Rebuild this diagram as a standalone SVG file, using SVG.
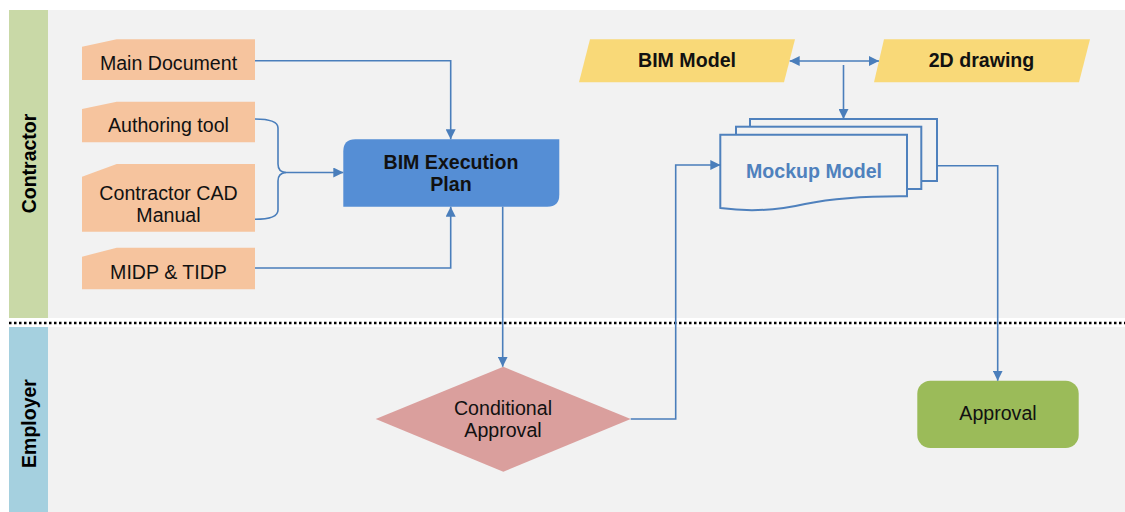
<svg xmlns="http://www.w3.org/2000/svg" width="1125" height="512" viewBox="0 0 1125 512">
  <defs>
    <marker id="arrow" viewBox="0 0 10 10" refX="10" refY="5" markerWidth="10" markerHeight="10" markerUnits="userSpaceOnUse" orient="auto-start-reverse">
      <path d="M0,0 L10,5 L0,10 Z" fill="#4A7EBB"/>
    </marker>
    <style>
      .lane-bg { fill: #F2F2F2; }
      .lane-label { font-family: "Liberation Sans", Arial, sans-serif; font-size: 19.5px; font-weight: bold; fill: #000; text-anchor: middle; }
      .txt { font-family: "Liberation Sans", Arial, sans-serif; font-size: 19.6px; fill: #111; text-anchor: middle; }
      .bold { font-weight: bold; }
      .input { fill: #F6C49E; }
      .data { fill: #F9D978; }
      .conn { fill: none; stroke: #4A7EBB; stroke-width: 1.6; }
      .page { fill: #F2F2F2; stroke: #4F81BD; stroke-width: 2; }
    </style>
  </defs>

  <rect width="1125" height="512" fill="#FFFFFF"/>

  <!-- Swimlanes -->
  <g id="lane-contractor">
    <rect class="lane-bg" x="48" y="10" width="1077" height="308"/>
    <rect x="9" y="10" width="39" height="308" fill="#C9D9A7"/>
    <text class="lane-label" transform="translate(35.5,163.5) rotate(-90)">Contractor</text>
  </g>
  <g id="lane-employer">
    <rect class="lane-bg" x="48" y="327" width="1077" height="185"/>
    <rect x="9" y="327" width="39" height="185" fill="#A5D0DF"/>
    <text class="lane-label" transform="translate(35.5,423.5) rotate(-90)">Employer</text>
  </g>
  <line id="lane-divider" x1="9" y1="323" x2="1125" y2="323" stroke="#000" stroke-width="2.5" stroke-dasharray="2.5 2.5"/>

  <!-- Input documents -->
  <g id="main-document">
    <polygon class="input" points="82,46.7 116.7,39.3 255,39.3 255,80 82,80"/>
    <text class="txt" x="168.5" y="70">Main Document</text>
  </g>
  <g id="authoring-tool">
    <polygon class="input" points="82,109 116.7,101.7 255,101.7 255,142.3 82,142.3"/>
    <text class="txt" x="168.5" y="132.3">Authoring tool</text>
  </g>
  <g id="contractor-cad-manual">
    <polygon class="input" points="82,176.7 116.7,164 255,164 255,231.7 82,231.7"/>
    <text class="txt" x="168.5" y="200">Contractor CAD</text>
    <text class="txt" x="168.5" y="221.7">Manual</text>
  </g>
  <g id="midp-tidp">
    <polygon class="input" points="82,256.7 116.7,247.7 255,247.7 255,289.3 82,289.3"/>
    <text class="txt" x="168.5" y="279">MIDP &amp; TIDP</text>
  </g>

  <!-- BIM Execution Plan -->
  <g id="bim-execution-plan">
    <path d="M355.3,139.3 H559.3 V194.7 Q559.3,206.7 547.3,206.7 H343.3 V151.3 Q343.3,139.3 355.3,139.3 Z" fill="#558ED5"/>
    <text class="txt bold" x="451" y="169.3">BIM Execution</text>
    <text class="txt bold" x="451" y="190.7">Plan</text>
  </g>

  <!-- Model sources -->
  <g id="bim-model">
    <polygon class="data" points="579,82.3 590,39.3 795,39.3 784,82.3"/>
    <text class="txt bold" x="687" y="67.2">BIM Model</text>
  </g>
  <g id="drawing-2d">
    <polygon class="data" points="874,82.3 884,39.3 1090,39.3 1079,82.3"/>
    <text class="txt bold" x="981.5" y="67.2">2D drawing</text>
  </g>

  <!-- Mockup Model (stacked documents) -->
  <g id="mockup-model">
    <rect class="page" x="750" y="119" width="187" height="62"/>
    <rect class="page" x="736" y="126.7" width="185.3" height="62.3"/>
    <path class="page" d="M720.3,134.7 H907 V196.3 C875,196 835,198 805,204 C775,211 750,212 720.3,208 Z"/>
    <text class="txt bold" x="814" y="177.7" style="fill:#4F81BD">Mockup Model</text>
  </g>

  <!-- Conditional Approval -->
  <g id="conditional-approval">
    <polygon points="503.3,366.7 630.7,419 503.3,471.7 375.7,419" fill="#DA9F9D"/>
    <text class="txt" x="503" y="415">Conditional</text>
    <text class="txt" x="503" y="436.7">Approval</text>
  </g>

  <!-- Approval -->
  <g id="approval">
    <rect x="917.3" y="380.7" width="161.4" height="67.3" rx="13" fill="#9BBB59"/>
    <text class="txt" x="998" y="420">Approval</text>
  </g>

  <!-- Connectors -->
  <g id="connectors">
    <path class="conn" d="M255,60.7 H450.7 V139.3" marker-end="url(#arrow)"/>
    <path class="conn" d="M255,268 H450.7 V206.7" marker-end="url(#arrow)"/>
    <path class="conn" d="M255,119 Q278,119 278,128 V164 Q278,172 286,172.5"/>
    <path class="conn" d="M255,219.3 Q278,219.3 278,210 V181 Q278,173 286,172.5"/>
    <path class="conn" d="M286,172.5 H343.3" marker-end="url(#arrow)"/>
    <path class="conn" d="M502.7,206.7 V366.7" marker-end="url(#arrow)"/>
    <path class="conn" d="M630.7,419 H675.7 V165 H720.3" marker-end="url(#arrow)"/>
    <path class="conn" d="M789.7,61 H879" marker-start="url(#arrow)" marker-end="url(#arrow)"/>
    <path class="conn" d="M843.5,65 V119" marker-end="url(#arrow)"/>
    <path class="conn" d="M937,165.7 H997.7 V380.7" marker-end="url(#arrow)"/>
  </g>
</svg>
